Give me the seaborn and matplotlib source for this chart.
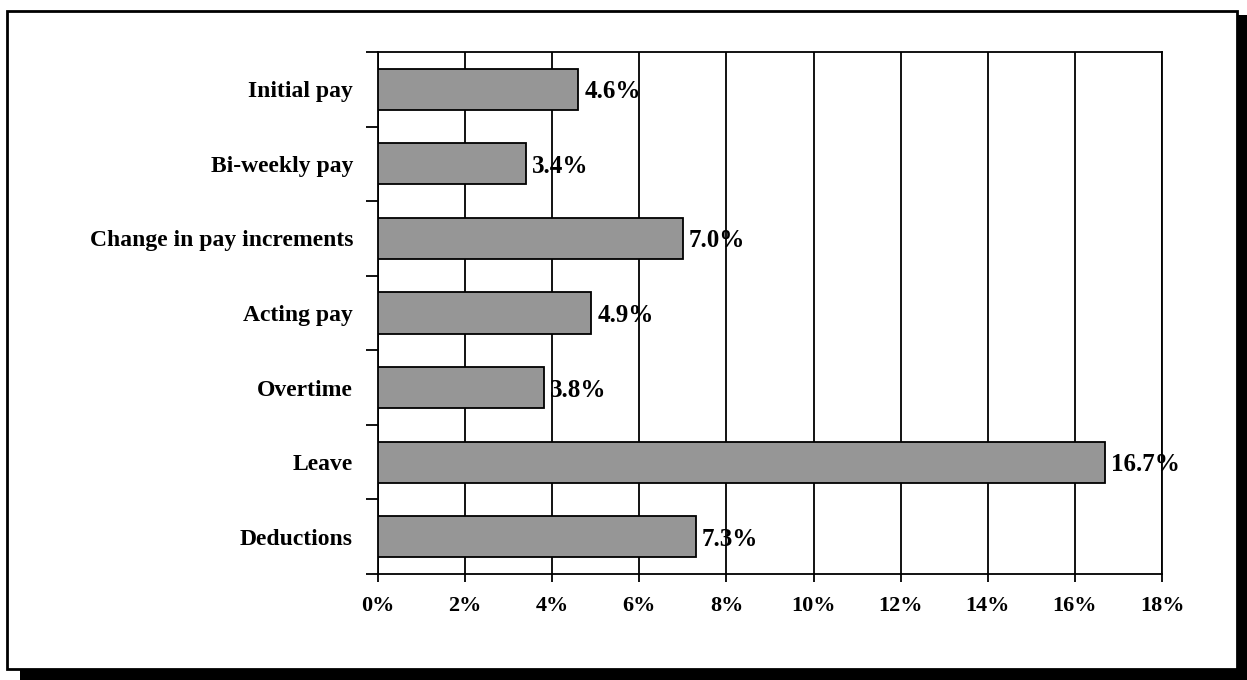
import matplotlib
matplotlib.use("Agg")
import matplotlib.pyplot as plt
from matplotlib.patches import Rectangle
import seaborn as sns
import pandas as pd
import numpy as np

categories = ["Initial pay", "Bi-weekly pay", "Change in pay increments", "Acting pay",
              "Overtime", "Leave", "Deductions"]
values = [4.6, 3.4, 7.0, 4.9, 3.8, 16.7, 7.3]
xticks = [0, 2, 4, 6, 8, 10, 12, 14, 16, 18]
xtick_labels = ["0%", "2%", "4%", "6%", "8%", "10%", "12%", "14%", "16%", "18%"]

sns.set_style("white")
plt.rcParams['font.family'] = ['Liberation Serif', 'DejaVu Serif']
plt.rcParams['font.weight'] = 'bold'
plt.rcParams['text.color'] = 'black'
plt.rcParams['xtick.color'] = 'black'
plt.rcParams['ytick.color'] = 'black'

W, H = 1247, 680
fig = plt.figure(figsize=(W / 100, H / 100), dpi=100)
fig.patch.set_facecolor("white")

# drop shadow and frame
fig.patches.append(Rectangle((20 / W, 0), (W - 20) / W, 665 / H, transform=fig.transFigure,
                             facecolor="black", edgecolor="none", zorder=-3))
fig.patches.append(Rectangle((7 / W, 11 / H), 1230 / W, 658 / H, transform=fig.transFigure,
                             facecolor="white", edgecolor="black", linewidth=2, zorder=-2))

ax = fig.add_axes([378 / W, 1 - 574 / H, (1162 - 378) / W, (574 - 52) / H])
ax.set_facecolor("none")
df = pd.DataFrame({"cat": categories, "val": values})
sns.barplot(data=df, x="val", y="cat", orient="h", color="#969696", edgecolor="black",
            linewidth=1.3, width=0.55, saturation=1, ax=ax, zorder=3)

ax.set_xlim(0, 18)
ax.set_ylim(len(categories) - 0.5, -0.5)
ax.set_xticks(xticks)
ax.set_xticklabels(xtick_labels, fontsize=16, fontweight="bold", color="black")
ax.set_axisbelow(True)
ax.xaxis.grid(True, color="black", linewidth=1.3)
ax.set_xlabel("")
ax.set_ylabel("")

ax.tick_params(axis="x", which="major", bottom=True, length=6, width=1.3, color="black", pad=10)
ax.tick_params(axis="y", which="major", left=False, length=0, pad=18, labelsize=17,
               labelcolor="black")
for lab in ax.get_yticklabels():
    lab.set_fontweight("bold")
ax.set_yticks(np.arange(-0.5, len(categories), 1.0), minor=True)
ax.tick_params(axis="y", which="minor", left=True, length=9, width=1.3, color="black")

for s in ax.spines.values():
    s.set_visible(True)
    s.set_color("black")
    s.set_linewidth(1.3)

for i, v in enumerate(values):
    ax.text(v + 0.14, i, f"{v:.1f}%", va="center_baseline", ha="left", fontsize=18,
            fontweight="bold", color="black", zorder=5)

fig.savefig("out.png", dpi=100)
